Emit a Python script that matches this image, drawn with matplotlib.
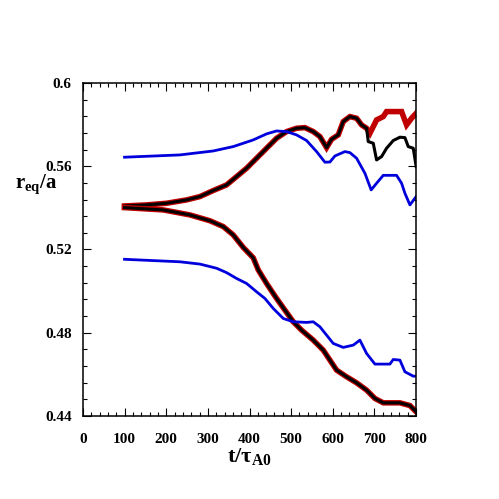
import numpy as np
import matplotlib
matplotlib.use('Agg')
import matplotlib.pyplot as plt
from matplotlib.ticker import MultipleLocator, FuncFormatter

plt.rcParams['font.family'] = ['Liberation Serif', 'DejaVu Serif']
plt.rcParams['font.weight'] = 'bold'
plt.rcParams['mathtext.fontset'] = 'custom'
plt.rcParams['mathtext.bf'] = 'Liberation Serif:bold'
plt.rcParams['mathtext.rm'] = 'Liberation Serif:bold'

# upper blue curve
t_blue_up = [100, 233, 313, 361, 409, 441, 465, 489, 513, 537, 561, 581, 593, 605,
             629, 641, 657, 677, 692, 705, 721, 753, 765, 773, 785, 800]
r_blue_up = [0.5643, 0.5654, 0.5673, 0.5694, 0.5726, 0.5755, 0.5769, 0.5766, 0.5750,
             0.5723, 0.5670, 0.5619, 0.5620, 0.5649, 0.5670, 0.5665, 0.5638, 0.5566,
             0.5486, 0.5518, 0.5556, 0.5556, 0.5518, 0.5470, 0.5414, 0.5454]

# upper black curve
t_black_up = [100, 153, 201, 249, 281, 313, 345, 369, 393, 417, 441, 465, 489, 513,
              533, 553, 569, 585, 597, 613, 625, 641, 657, 669, 681, 685, 697, 705,
              717, 729, 745, 761, 773, 781, 793, 800]
r_black_up = [0.5409, 0.5414, 0.5422, 0.5438, 0.5454, 0.5483, 0.5510, 0.5550, 0.5590,
              0.5638, 0.5686, 0.5734, 0.5766, 0.5782, 0.5785, 0.5766, 0.5742, 0.5689,
              0.5729, 0.5750, 0.5814, 0.5838, 0.5830, 0.5798, 0.5782, 0.5718, 0.5710,
              0.5630, 0.5646, 0.5686, 0.5723, 0.5739, 0.5737, 0.5694, 0.5686, 0.5598]

# upper red curve (same as black until ~680)
t_red_up = [100, 153, 201, 249, 281, 313, 345, 369, 393, 417, 441, 465, 489, 513,
            533, 553, 569, 585, 597, 613, 625, 641, 657, 669, 681, 689, 705, 721,
            729, 765, 777, 789, 800]
r_red_up = [0.5409, 0.5414, 0.5422, 0.5438, 0.5454, 0.5483, 0.5510, 0.5550, 0.5590,
            0.5638, 0.5686, 0.5734, 0.5766, 0.5782, 0.5785, 0.5766, 0.5742, 0.5689,
            0.5729, 0.5750, 0.5814, 0.5838, 0.5830, 0.5798, 0.5782, 0.5758, 0.5822,
            0.5838, 0.5862, 0.5862, 0.5798, 0.5830, 0.5854]

# lower black / red curve
t_black_lo = [100, 193, 257, 305, 337, 361, 385, 409, 421, 441, 465, 485, 505, 525,
              553, 577, 593, 609, 633, 657, 681, 701, 721, 761, 785, 800]
r_black_lo = [0.5401, 0.5390, 0.5366, 0.5338, 0.5310, 0.5270, 0.5210, 0.5160, 0.5102,
              0.5037, 0.4965, 0.4909, 0.4853, 0.4813, 0.4765, 0.4717, 0.4669, 0.4621,
              0.4589, 0.4560, 0.4525, 0.4485, 0.4464, 0.4464, 0.4451, 0.4421]

# lower blue curve
t_blue_lo = [100, 233, 281, 321, 345, 369, 393, 417, 437, 457, 481, 505, 537, 553,
             569, 585, 601, 625, 649, 665, 681, 701, 737, 745, 761, 773, 793, 800]
r_blue_lo = [0.5153, 0.5141, 0.5130, 0.5110, 0.5089, 0.5061, 0.5037, 0.4997, 0.4965,
             0.4917, 0.4869, 0.4853, 0.4850, 0.4853, 0.4829, 0.4789, 0.4749, 0.4730,
             0.4741, 0.4765, 0.4701, 0.4650, 0.4650, 0.4672, 0.4669, 0.4613, 0.4592,
             0.4592]

red = '#c00000'
blue = '#0000dd'

fig = plt.figure(figsize=(4.99, 4.99), dpi=100)
ax = fig.add_axes([0.166, 0.166, 0.668, 0.668])

ax.plot(t_red_up, r_red_up, color=red, lw=4.0, solid_joinstyle='miter')
ax.plot(t_black_up, r_black_up, color='black', lw=2.2)
ax.plot(t_black_lo, r_black_lo, color=red, lw=4.0, solid_joinstyle='miter')
ax.plot(t_black_lo, r_black_lo, color='black', lw=2.2)
ax.plot(t_blue_up, r_blue_up, color=blue, lw=2.0)
ax.plot(t_blue_lo, r_blue_lo, color=blue, lw=2.0)

ax.set_xlim(0, 800)
ax.set_ylim(0.44, 0.6)
ax.xaxis.set_major_locator(MultipleLocator(100))
ax.xaxis.set_minor_locator(MultipleLocator(20))
ax.yaxis.set_major_locator(MultipleLocator(0.04))
ax.yaxis.set_minor_locator(MultipleLocator(0.008))
ax.yaxis.set_major_formatter(FuncFormatter(lambda v, p: '%g' % round(v, 3)))
ax.tick_params(which='both', direction='in', top=True, right=True, width=0.8)
ax.tick_params(which='major', length=6)
ax.tick_params(which='minor', length=3)
ax.tick_params(axis='x', pad=12, labelsize=11)
ax.tick_params(axis='y', pad=8, labelsize=11)
for s in ax.spines.values():
    s.set_linewidth(1.1)

ax.set_xlabel(r'$\mathbf{t/τ_{A0}}$', fontsize=16)
ax.xaxis.set_label_coords(0.5, -0.09)
ax.set_ylabel(r'$\mathbf{r_{eq}/a}$', fontsize=15, rotation=0, ha='left', va='center')
ax.yaxis.set_label_coords(-0.205, 0.695)

fig.savefig('out.png', dpi=100)
